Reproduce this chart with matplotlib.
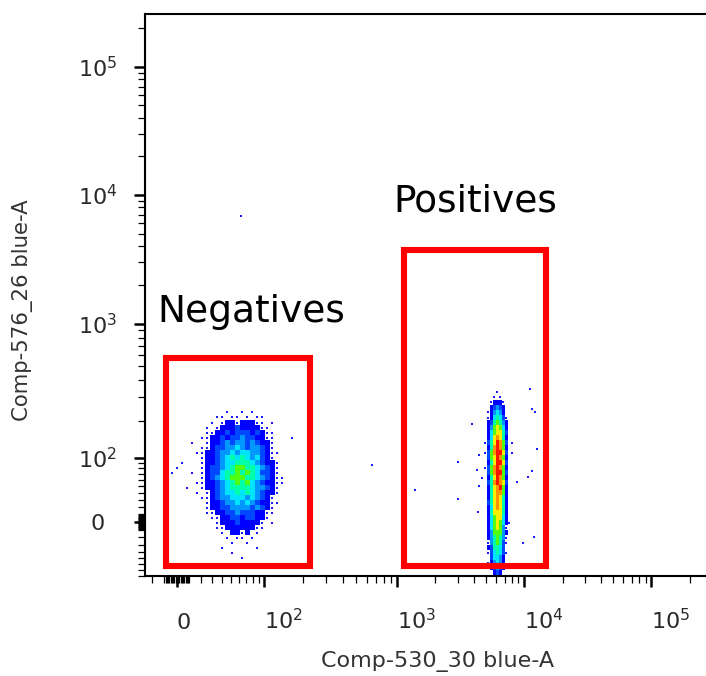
import numpy as np
import matplotlib
matplotlib.use("Agg")
import matplotlib.pyplot as plt
from matplotlib.colors import ListedColormap, BoundaryNorm
from matplotlib.patches import Rectangle
from matplotlib.ticker import FixedLocator, NullFormatter

# biexponential display: asinh inside, pinned to the decade positions of the axis
decades = [0, 100, 1e3, 1e4, 1e5, 1e6]
x_cofactor = 44.0
y_cofactor = 80.0
x_decade_pos = [0, 87, 220, 347, 474, 601]
y_decade_pos = [0, 64, 198, 327, 455, 583]

x_range = (-26.5, 269000)
y_range = (-80, 258000)

# density levels per cell (0 empty, 1 single event, 2..a blue -> red), top row first
neg_x_span = (-5.5, 174)
neg_y_span = (-53, 242)
neg_rows = [
    "0000000000010010100000000",
    "0000000001101101011000000",
    "0000000010122122211010000",
    "0000000101222322221100000",
    "0000000112232333232110000",
    "0000001122323343322110001",
    "0000100122343443432210000",
    "0000001123344543443210000",
    "0000011223445455443211000",
    "0000001223456565453210000",
    "0010001223455666543221000",
    "0100001233456776654321000",
    "1000101233566767653321000",
    "0000001234567776654321100",
    "0000011223456767543221100",
    "0001001223456666544321000",
    "0000010123455656543221000",
    "0000001123445554543210000",
    "0000000122344545432211000",
    "0000000122334444343210000",
    "0000000112233433322110000",
    "0000000011223323322100000",
    "0000000001222322221010000",
    "0000000001122222211000000",
    "0000000000102212010000000",
    "0000000000010110100000000",
    "0000000000001001000000000",
    "0000000000100000010000000",
    "0000000000001000000000000",
    "0000000000000010000000000",
]

pos_x_span = (4547, 8740)
pos_y_span = (-78.5, 339)
pos_rows = [
    "000001000000",
    "000010100000",
    "000122210000",
    "000234320000",
    "001245420000",
    "001256531000",
    "002367642000",
    "002478752000",
    "002578863000",
    "002589862000",
    "01368a973010",
    "00269a972000",
    "01379aa83010",
    "00378a972000",
    "00268aa83000",
    "01379a972000",
    "00379aa73000",
    "10268a972000",
    "00369a983000",
    "002689a72000",
    "002689972000",
    "002689862000",
    "003689862000",
    "002589862000",
    "002688862000",
    "002578852000",
    "002578752100",
    "002578741000",
    "002477742000",
    "002467641000",
    "001467631000",
    "002366530000",
    "001356531000",
    "000355420000",
    "001245420000",
    "000234320000",
    "000023200000",
]

# single events away from the two populations
stray_x = [63, 652, 1390, 11100, 11500, 12200, 3900, 12650, 3020, 11550,
           10700, 8800, 3020, 4350, 11970, 9800, 4430, 4260, 4430]
stray_y = [6870, 86, 44, 345, 246, 234, 190, 120, 92, 75,
           64, 56, 31, 13, -20, -28, 106, 77, 50]

gate_names = ["Negatives", "Positives"]
gate_x = [(-8.7, 225), (1135, 14900)]
gate_y = [(-62.7, 574), (-62.7, 3750)]
gate_label_offset = [(-5.8, 26), (-7.9, 27.4)]   # points

major_ticks = [0, 100, 1e3, 1e4, 1e5]
major_labels = ["0", "$10^2$", "$10^3$", "$10^4$", "$10^5$"]
minor_ticks = ([s * k for s in (-1, 1) for k in range(1, 10)]
               + [s * k * 10 for s in (-1, 1) for k in range(1, 10)]
               + [k * 10 ** e for e in (2, 3, 4, 5) for k in range(2, 10)])

level_colors = ["#0000ff", "#0048ff", "#0098ff", "#00e4ff", "#00ffa8",
                "#50ff10", "#f4f000", "#ff9000", "#ff1400"]
dot_color = "#1a1aff"


def make_scale(cof, pos):
    a = np.arcsinh(np.array(decades) / cof)
    a = np.concatenate([-a[:0:-1], a])
    p = np.array(pos, float)
    p = np.concatenate([-p[:0:-1], p])

    def fwd(v):
        return np.interp(np.arcsinh(np.asarray(v, float) / cof), a, p)

    def inv(d):
        return cof * np.sinh(np.interp(np.asarray(d, float), p, a))
    return fwd, inv


xfwd, xinv = make_scale(x_cofactor, x_decade_pos)
yfwd, yinv = make_scale(y_cofactor, y_decade_pos)

cmap = ListedColormap(level_colors)
norm = BoundaryNorm(np.arange(1.5, 11.5, 1.0), cmap.N)


def draw_population(ax, rows, xspan, yspan):
    levels = np.array([[int(ch, 16) for ch in r] for r in rows[::-1]])
    nrow, ncol = levels.shape
    xd = np.linspace(xfwd(xspan[0]), xfwd(xspan[1]), ncol + 1)
    yd = np.linspace(yfwd(yspan[0]), yfwd(yspan[1]), nrow + 1)
    xe, ye = xinv(xd), yinv(yd)
    ax.pcolormesh(xe, ye, np.ma.masked_less(levels, 2), cmap=cmap, norm=norm,
                  shading="flat", antialiased=False, zorder=2)
    xc = xinv((xd[:-1] + xd[1:]) / 2)
    yc = yinv((yd[:-1] + yd[1:]) / 2)
    jj, ii = np.nonzero(levels == 1)
    ax.scatter(xc[ii], yc[jj], s=3.5, marker="s", color=dot_color,
               linewidths=0, zorder=2)


fig = plt.figure(figsize=(7.06, 6.76), dpi=100)
ax = fig.add_axes([145 / 706, 100 / 676, 561 / 706, 562 / 676])
ax.set_xscale("function", functions=(xfwd, xinv))
ax.set_yscale("function", functions=(yfwd, yinv))
ax.set_xlim(*x_range)
ax.set_ylim(*y_range)

draw_population(ax, neg_rows, neg_x_span, neg_y_span)
draw_population(ax, pos_rows, pos_x_span, pos_y_span)
ax.scatter(stray_x, stray_y, s=3.5, marker="s", color=dot_color,
           linewidths=0, zorder=2)

# gates
for name, gx, gy, off in zip(gate_names, gate_x, gate_y, gate_label_offset):
    ax.add_patch(Rectangle((gx[0], gy[0]), gx[1] - gx[0], gy[1] - gy[0],
                           fill=False, edgecolor="#ff0000", linewidth=4.4,
                           joinstyle="miter", zorder=4))
    ax.annotate(name, xy=(gx[0], gy[1]), xytext=off, textcoords="offset points",
                fontsize=27, ha="left", va="baseline", color="black")

for axis in (ax.xaxis, ax.yaxis):
    axis.set_major_locator(FixedLocator(major_ticks))
    axis.set_minor_locator(FixedLocator(minor_ticks))
    axis.set_minor_formatter(NullFormatter())
ax.set_xticklabels(major_labels)
ax.set_yticklabels(major_labels)

ax.tick_params(which="major", length=8, width=1.8, color="black",
               labelsize=16, labelcolor="#2a2a2a")
ax.tick_params(which="minor", length=5, width=0.9, color="black")
ax.tick_params(axis="x", which="major", pad=30)
ax.tick_params(axis="y", which="major", pad=26)
for lab in ax.get_xticklabels():
    lab.set_horizontalalignment("left")
    lab.set_verticalalignment("baseline")
for lab in ax.get_yticklabels():
    lab.set_horizontalalignment("center")

for side in ("left", "top", "bottom"):
    ax.spines[side].set_linewidth(1.5)
    ax.spines[side].set_color("black")
ax.spines["right"].set_visible(False)

ax.set_xlabel("Comp-530_30 blue-A", fontsize=16, color="#333333",
              ha="center", va="top")
ax.xaxis.set_label_coords(0.522, -0.133)
ax.set_ylabel("Comp-576_26 blue-A", fontsize=15.3, color="#333333",
              ha="center", va="center")
ax.yaxis.set_label_coords(-0.219, 0.473)

fig.savefig("out.png", dpi=100)
